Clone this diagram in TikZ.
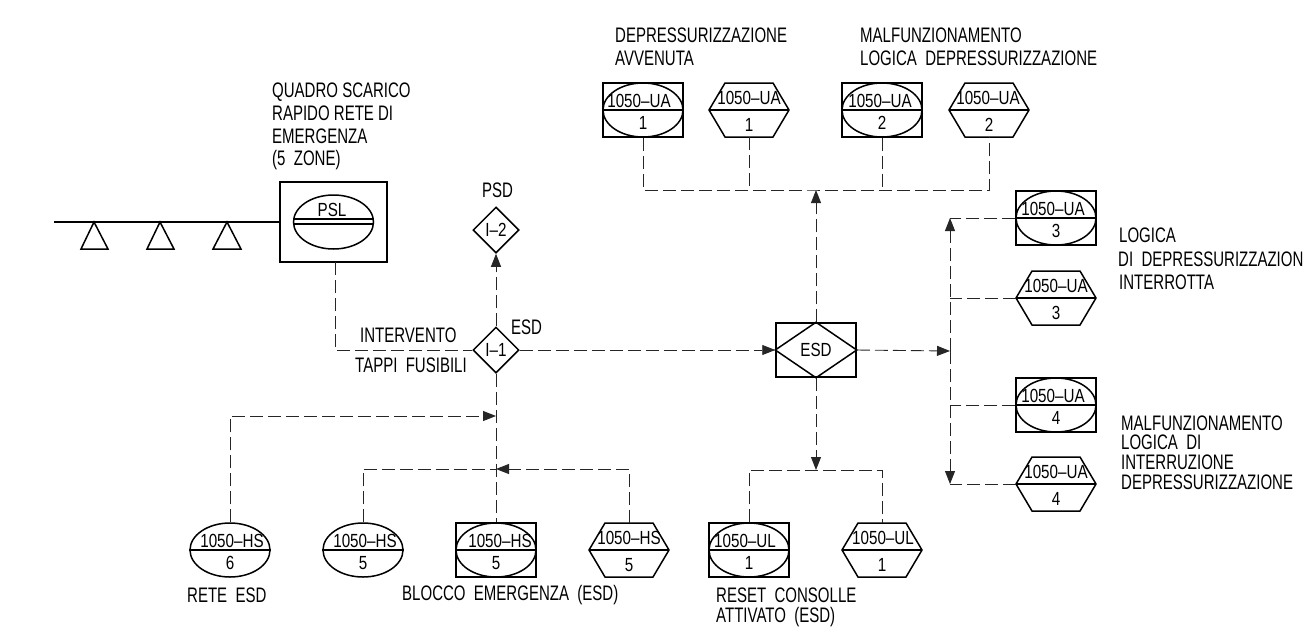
\documentclass[tikz,border=0pt]{standalone}
\usepackage{fontspec}
\setmainfont{Liberation Sans}
\newfontfamily\lblfont[FakeStretch=0.715]{Liberation Sans}
\newfontfamily\symfont[FakeStretch=0.80]{Liberation Sans}
\usetikzlibrary{shapes.geometric,arrows.meta}
\tikzset{
  solidline/.style={line width=1.5pt,black},
  dashline/.style={line width=0.9pt,black!85,dash pattern=on 13pt off 5pt},
  lbl/.style={anchor=west,inner sep=0pt,font=\lblfont\fontsize{21}{24}\selectfont},
  symtxt/.style={inner sep=0pt,font=\symfont\fontsize{19}{22}\selectfont},
  symbox/.style={rectangle,minimum width=80pt,minimum height=54pt,inner sep=0pt},
  symell/.style={ellipse,draw,solidline,minimum width=80pt,minimum height=54pt,inner sep=0pt},
  dmd/.style={diamond,draw,solidline,minimum width=46pt,minimum height=46pt,inner sep=0pt,aspect=1},
  tri/.style={solidline},
  arr/.style={dashline,-{Triangle[length=13pt,width=10pt]}},
}
% name, x, y, top text, bottom text, dx of top text, dy top, dy bottom
\newcommand{\symtexts}[8]{%
  \draw[solidline] (#1.west) -- (#1.east);
  \node[symtxt] (#1-t) at (#2+#6,#3+#7) {#4};
  \node[symtxt] (#1-b) at (#2,#3+#8) {#5};}
\newcommand{\ellsym}[6]{%
  \node[symell] (#1) at (#2,#3) {};
  \symtexts{#1}{#2}{#3}{#4}{#5}{#6}{-9}{13}}
\newcommand{\boxsym}[6]{%
  \node[symbox,draw,solidline] (#1) at (#2,#3) {};
  \node[symell] (#1-e) at (#2,#3) {};
  \symtexts{#1}{#2}{#3}{#4}{#5}{#6}{-9}{13}}
\newcommand{\hexsym}[6]{%
  \node[symbox] (#1) at (#2,#3) {};
  \draw[solidline,line join=miter] (#2-40,#3) -- (#2-24,#3-27) -- (#2+24,#3-27) -- (#2+40,#3) -- (#2+24,#3+27) -- (#2-24,#3+27) -- cycle;
  \symtexts{#1}{#2}{#3}{#4}{#5}{#6}{-12}{15}}
\begin{document}
\begin{tikzpicture}[x=1pt,y=-1pt]
\useasboundingbox (0,0) rectangle (1303,630);
% sprinkler line and panel
\node[symbox,draw,solidline,minimum width=107pt,minimum height=80pt] (psl) at (333.5,222) {};
\node[symell] (psle) at (333.5,222) {};
\draw[solidline,line width=1.2pt] (psle.west |- 0,219) -- (psle.east |- 0,219);
\draw[solidline,line width=1.2pt] (psle.west |- 0,224) -- (psle.east |- 0,224);
\node[symtxt] (pslt) at (332,210) {PSL};
\coordinate (pipe) at (54,222);
\coordinate (psld) at (335,262);
\draw[solidline] (pipe) -- (psl.west);
\draw[tri] (94,222) -- (81,249) -- (108,249) -- cycle;
\draw[tri] (160,222) -- (147,249) -- (174,249) -- cycle;
\draw[tri] (227,222) -- (213,249) -- (241,249) -- cycle;
% diamonds
\node[dmd] (i2) at (496,230) {\symfont\fontsize{19}{22}\selectfont I–2};
\node[dmd] (i1) at (496,350) {\symfont\fontsize{19}{22}\selectfont I–1};
\node[symbox,draw,solidline] (esd) at (816,350) {};
\draw[solidline] (esd.north) -- (esd.east) -- (esd.south) -- (esd.west) -- cycle;
\node[symtxt] (esdt) at (816,350) {ESD};
% top symbols
\boxsym{a1}{643}{110}{1050–UA}{1}{-4}
\hexsym{a2}{749}{110}{1050–UA}{1}{0}
\boxsym{a3}{882}{110}{1050–UA}{2}{-2}
\hexsym{a4}{989}{110}{1050–UA}{2}{-1}
% right symbols
\boxsym{b1}{1056}{218}{1050–UA}{3}{-3}
\hexsym{b2}{1056}{298}{1050–UA}{3}{0}
\boxsym{b3}{1056}{405}{1050–UA}{4}{-3}
\hexsym{b4}{1056}{484}{1050–UA}{4}{0}
% bottom symbols
\ellsym{c1}{230}{550}{1050–HS}{6}{2}
\ellsym{c2}{363}{550}{1050–HS}{5}{2}
\boxsym{c3}{496}{550}{1050–HS}{5}{4}
\hexsym{c4}{629}{550}{1050–HS}{5}{0}
\boxsym{d1}{749}{550}{1050–UL}{1}{-4}
\hexsym{d2}{882}{550}{1050–UL}{1}{1}
% junctions
\coordinate (jt) at (816,190);
\coordinate (jb) at (816,470);
\coordinate (jr) at (950,351);
\coordinate (jl1) at (496,416);
\coordinate (jl2) at (496,469);
% connectors
\draw[dashline] (a1.south) |- (jt) -| (a4.south);
\draw[dashline] (a2.south) -- (a2.south |- jt);
\draw[dashline] (a3.south) -- (a3.south |- jt);
\draw[arr] (esd.north) -- (jt);
\draw[arr] (esd.south) -- (jb);
\draw[dashline] (d1.north) |- (jb) -| (d2.north);
\draw[arr] (esd.east) -- (jr);
\draw[arr] (jr) -- (jr |- b1.west);
\draw[arr] (jr) -- (jr |- b4.west);
\draw[dashline] (b1.west) -- (jr |- b1.west);
\draw[dashline] (b2.west) -- (jr |- b2.west);
\draw[dashline] (b3.west) -- (jr |- b3.west);
\draw[dashline] (b4.west) -- (jr |- b4.west);
\draw[arr] (i1.east) -- (esd.west);
\draw[arr] (i1.north) -- (i2.south);
\draw[dashline] (psld) |- (i1.west);
\draw[dashline] (i1.south) -- (c3.north);
\draw[arr] (c1.north) |- (jl1);
\draw[dashline] (c2.north) |- (jl2);
\draw[arr] (c4.north) |- (jl2);
% labels
\node[lbl] (t1) at (615,35) {DEPRESSURIZZAZIONE};
\node[lbl] (t2) at (615,58) {AVVENUTA};
\node[lbl] (t3) at (860,35) {MALFUNZIONAMENTO};
\node[lbl] (t4) at (860,58) {LOGICA\ \ DEPRESSURIZZAZIONE};
\node[lbl] (q1) at (272,92) {QUADRO SCARICO};
\node[lbl] (q2) at (272,113) {RAPIDO RETE DI};
\node[lbl] (q3) at (272,136) {EMERGENZA};
\node[lbl] (q4) at (272,160) {(5\ \ ZONE)};
\node[lbl] (psd) at (482,190) {PSD};
\node[lbl] (esdl) at (511,327) {ESD};
\node[lbl] (iv) at (360,335) {INTERVENTO};
\node[lbl] (tf) at (355,365) {TAPPI\ \ FUSIBILI};
\node[lbl] (r1) at (187,595) {RETE\ \ ESD};
\node[lbl] (r2) at (402,595) {BLOCCO\ \ EMERGENZA\ \ (ESD)};
\node[lbl] (r3) at (716,595) {RESET\ \ CONSOLLE};
\node[lbl] (r4) at (716,617) {ATTIVATO\ \ (ESD)};
\node[lbl] (l1) at (1119,235) {LOGICA};
\node[lbl] (l2) at (1118,259) {DI\ \ DEPRESSURIZZAZION};
\node[lbl] (l3) at (1119,282) {INTERROTTA};
\node[lbl] (m1) at (1121,423) {MALFUNZIONAMENTO};
\node[lbl] (m2) at (1121,442) {LOGICA\ \ DI};
\node[lbl] (m3) at (1121,462) {INTERRUZIONE};
\node[lbl] (m4) at (1121,482) {DEPRESSURIZZAZIONE};
\end{tikzpicture}
\end{document}
